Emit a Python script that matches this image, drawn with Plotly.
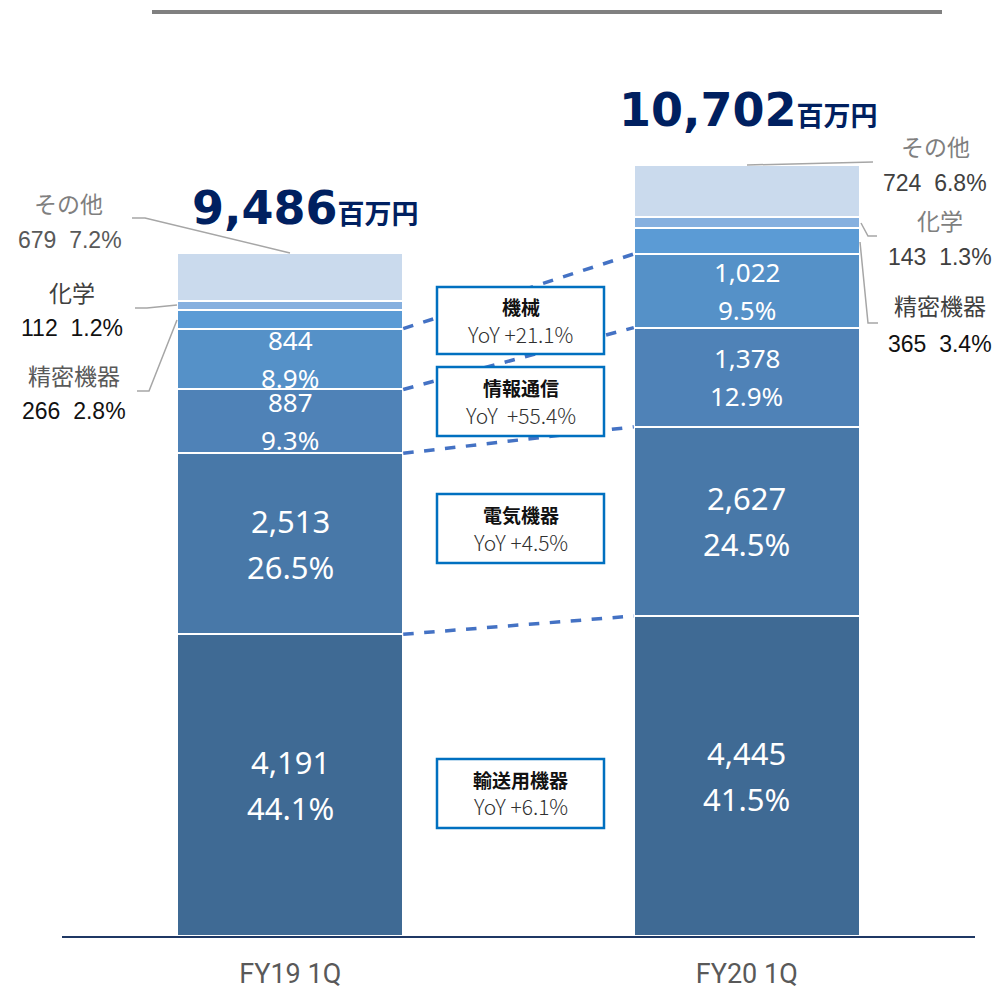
import plotly.graph_objects as go

# ---------------- data ----------------
periods = ["FY19 1Q", "FY20 1Q"]
segments = ["輸送用機器", "電気機器", "情報通信", "機械", "精密機器", "化学", "その他"]
fy19 = [4191, 2513, 887, 844, 266, 112, 679]
fy20 = [4445, 2627, 1378, 1022, 365, 143, 724]
share19 = ["44.1%", "26.5%", "9.3%", "8.9%", "2.8%", "1.2%", "7.2%"]
share20 = ["41.5%", "24.5%", "12.9%", "9.5%", "3.4%", "1.3%", "6.8%"]
totals = ["9,486", "10,702"]
yoy = {"機械": "YoY +21.1%", "情報通信": "YoY  +55.4%", "電気機器": "YoY +4.5%", "輸送用機器": "YoY +6.1%"}

colors = ["#3F6A94", "#4878A8", "#4F82B7", "#5591C8", "#5B9BD5", "#86B0DF", "#CADAED"]

# ---------------- geometry helpers ----------------
W, H = 995, 990
ML, MR, MT, MB = 62, 20, 36, 54
PW, PH = W - ML - MR, H - MT - MB
YMAX = 12500
BAR_W = 0.495


def px(x):
    return (x - ML) / PW


def py(y):
    return (H - MB - y) / PH


fig = go.Figure()
for i, seg in enumerate(segments):
    fig.add_trace(go.Bar(
        x=periods, y=[fy19[i], fy20[i]], name=seg,
        marker=dict(color=colors[i], line=dict(color="white", width=2)),
        width=BAR_W, hoverinfo="skip", showlegend=False,
    ))

annotations = []
shapes = []

# in-bar labels (first four segments)
label_font_big = dict(family="Noto Sans, Open Sans, sans-serif", color="white", size=31)
label_font_small = dict(family="Noto Sans, Open Sans, sans-serif", color="white", size=26)
for p_idx, (vals, shares) in enumerate([(fy19, share19), (fy20, share20)]):
    cum = 0
    for i in range(7):
        lo = cum
        cum += vals[i]
        if i > 3:
            continue
        mid = (lo + cum) / 2
        big = vals[i] > 2000
        f = label_font_big if big else label_font_small
        off = 23 if big else 19
        annotations.append(dict(x=periods[p_idx], y=mid, xref="x", yref="y",
                                xanchor="center", yanchor="middle",
                                text=f"{vals[i]:,}", showarrow=False, font=f, yshift=off))
        annotations.append(dict(x=periods[p_idx], y=mid, xref="x", yref="y",
                                xanchor="center", yanchor="middle",
                                text=shares[i], showarrow=False, font=f, yshift=-off))

# dashed connectors between segment boundaries
cum19, cum20 = [], []
c1 = c2 = 0
for i in range(4):
    c1 += fy19[i]
    c2 += fy20[i]
    cum19.append(c1)
    cum20.append(c2)
for a, b in zip(cum19, cum20):
    shapes.append(dict(type="line", xref="x", yref="y",
                       x0=0 + BAR_W / 2, x1=1 - BAR_W / 2, y0=a, y1=b,
                       line=dict(color="#4472C4", width=3.5, dash="dash"), layer="above"))

# YoY boxes
box_specs = [("機械", 287, 354), ("情報通信", 367, 436), ("電気機器", 494, 563), ("輸送用機器", 759, 828)]
for name, top, bot in box_specs:
    shapes.append(dict(type="rect", xref="paper", yref="paper",
                       x0=px(437), x1=px(604), y0=py(bot), y1=py(top),
                       line=dict(color="#0070C0", width=2.5), fillcolor="white", layer="above"))
    cy = (top + bot) / 2
    annotations.append(dict(x=px(520.5), y=py(cy - 14), xref="paper", yref="paper",
                            xanchor="center", yanchor="middle",
                            text=f"<b>{name}</b>", showarrow=False,
                            font=dict(family="Noto Sans CJK JP", size=19, color="#111111")))
    annotations.append(dict(x=px(520.5), y=py(cy + 13), xref="paper", yref="paper",
                            xanchor="center", yanchor="middle",
                            text=yoy[name].replace("  ", "\u00a0\u00a0"), showarrow=False,
                            font=dict(family="Noto Sans CJK JP", size=21, color="#303030",
                                      weight=300)))

# totals
for txt, xl, yc in [(totals[0], 190, 208), (totals[1], 617, 110)]:
    annotations.append(dict(
        x=px(xl), y=py(yc), xref="paper", yref="paper", xanchor="left", yanchor="middle",
        text=f"<b>{txt}</b><b><span style='font-size:27px'>百万円</span></b>",
        showarrow=False,
        font=dict(family="DejaVu Sans, Noto Sans CJK JP", size=46, color="#002060")))

# side labels
side_font = "Liberation Sans, Noto Sans CJK JP, sans-serif"
side_labels = [
    ("その他", 68, 205, "#7F7F7F"), (f"{fy19[6]}  {share19[6]}", 70, 240, "#595959"),
    ("化学", 72, 294, "#404040"), (f"{fy19[5]}  {share19[5]}", 72, 328, "#111111"),
    ("精密機器", 74, 377, "#595959"), (f"{fy19[4]}  {share19[4]}", 74, 411, "#111111"),
    ("その他", 935, 148, "#7F7F7F"), (f"{fy20[6]}  {share20[6]}", 935, 183, "#404040"),
    ("化学", 940, 222, "#7F7F7F"), (f"{fy20[5]}  {share20[5]}", 940, 257, "#404040"),
    ("精密機器", 940, 307, "#404040"), (f"{fy20[4]}  {share20[4]}", 940, 344, "#111111"),
]
for txt, cx, cy, col in side_labels:
    annotations.append(dict(x=px(cx), y=py(cy), xref="paper", yref="paper",
                            xanchor="center", yanchor="middle",
                            text=txt.replace("  ", "\u00a0\u00a0"), showarrow=False,
                            font=dict(family=side_font, size=23, color=col)))

# leader lines
leaders = [
    [(132, 218), (145, 218), (290, 253)],
    [(135, 308), (147, 308), (177, 305)],
    [(137, 391), (149, 391), (177, 320)],
    [(747, 165), (873, 162)],
    [(861, 223), (868, 236), (877, 236)],
    [(860, 242), (868, 323), (878, 323)],
]
for pts in leaders:
    path = "M " + " L ".join(f"{px(x):.5f},{py(y):.5f}" for x, y in pts)
    shapes.append(dict(type="path", xref="paper", yref="paper", path=path,
                       line=dict(color="#A6A6A6", width=1.5), layer="above"))

# top grey rule
shapes.append(dict(type="line", xref="paper", yref="paper", x0=px(152), x1=px(942),
                   y0=py(12), y1=py(12), line=dict(color="#808080", width=4)))

fig.update_layout(
    barmode="stack",
    width=W, height=H,
    margin=dict(l=ML, r=MR, t=MT, b=MB, autoexpand=False),
    plot_bgcolor="white", paper_bgcolor="white",
    showlegend=False,
    annotations=annotations,
    shapes=shapes,
    xaxis=dict(type="category", range=[-0.5, 1.5], showline=True, linecolor="#1F3864",
               linewidth=2, showgrid=False, zeroline=False, ticks="", automargin=False,
               ticklabelstandoff=13,
               tickfont=dict(family="Roboto, sans-serif", size=27, color="#595959")),
    yaxis=dict(range=[0, YMAX], visible=False, showgrid=False, zeroline=False, automargin=False),
)

fig.write_html("out.html",
               config={"displayModeBar": False},
               post_script="document.body.style.margin='0';document.body.style.overflow='hidden';")
